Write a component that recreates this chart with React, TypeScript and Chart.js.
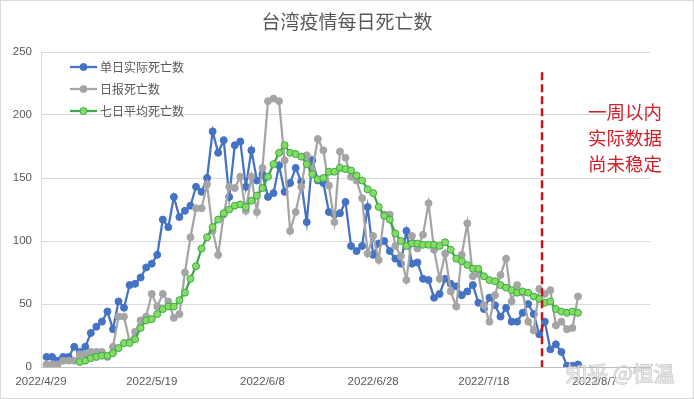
import React, { useEffect, useRef } from 'react';
import { Chart, registerables } from 'chart.js';

Chart.register(...registerables);

// Categories: daily dates from 2022/4/29 to 2022/8/17
const startDate = [2022, 4, 29];
const dayCount = 111;
const categories: string[] = [];
for (let i = 0; i < dayCount; i++) {
  const d = new Date(startDate[0], startDate[1] - 1, startDate[2] + i);
  categories.push(`${d.getFullYear()}/${d.getMonth() + 1}/${d.getDate()}`);
}

const tickLabels = ['2022/4/29', '2022/5/19', '2022/6/8', '2022/6/28', '2022/7/18', '2022/8/7'];
const yTicks = [0, 50, 100, 150, 200, 250];

// 单日实际死亡数, from 2022/4/30
const actualStart = '2022/4/30';
const actualDeaths = [
  8, 8, 5, 8, 8, 16, 12, 16, 27, 32,
  36, 44, 30, 52, 47, 65, 66, 71, 79, 82,
  89, 117, 111, 135, 119, 124, 128, 143, 139, 150,
  187, 170, 180, 135, 176, 179, 143, 172, 148, 153,
  135, 138, 160, 139, 146, 158, 147, 115, 164, 148,
  146, 123, 121, 122, 131, 96, 92, 96, 127, 89,
  98, 100, 92, 86, 82, 108, 82, 83, 70, 69,
  55, 58, 70, 66, 64, 57, 60, 65, 51, 46,
  55, 49, 40, 47, 36, 36, 43, 50, 42, 26,
  36, 14, 18, 12, 1, 1, 2,
];

// 日报死亡数, from 2022/4/30
const reportedStart = '2022/4/30';
const reportedDeaths = [
  2, 2, 2, 5, 5, 5, 10, 10, 12, 12,
  12, 8, 16, 40, 40, 20, 28, 37, 40, 58,
  48, 58, 52, 39, 42, 75, 103, 126, 126, 145,
  108, 89, 121, 143, 142, 151, 124, 151, 123, 158,
  211, 213, 211, 164, 108, 123, 143, 168, 156, 181,
  172, 144, 115, 171, 166, 151, 148, 134, 90, 104,
  85, 121, 121, 96, 88, 69, 104, 94, 105, 130,
  93, 70, 90, 60, 48, 89, 114, 72, 74, 49,
  36, 57, 73, 86, 52, 65, 59, 36, 29, 62,
  58, 61, 33, 36, 30, 31, 56,
];

// 七日平均死亡数, from 2022/5/6
const avgStart = '2022/5/6';
const avgDeaths = [
  4, 5, 7, 8,
  9, 9, 11, 15, 19, 19, 22, 31, 37, 38,
  42, 46, 48, 48, 53, 59, 70, 80, 94, 103,
  111, 117, 122, 125, 128, 129, 127, 132, 136, 142,
  151, 161, 170, 176, 170, 169, 167, 161, 153, 149,
  150, 155, 155, 158, 157, 156, 152, 148, 141, 138,
  127, 120, 117, 106, 100, 96, 98, 98, 97, 97,
  97, 96, 99, 93, 86, 84, 81, 78, 78, 72,
  69, 68, 65, 63, 61, 59, 60, 59, 56, 54,
  51, 52, 46, 44, 43, 44, 43,
];

const seriesNames = ['单日实际死亡数', '日报死亡数', '七日平均死亡数'];
const titleText = '台湾疫情每日死亡数';
const noteLines = ['一周以内', '实际数据', '尚未稳定'];
const cutoffBetween = ['2022/7/28', '2022/7/29'];
const cutoffTop = 234;
const watermark = '知乎 @恒温';

function align(values: number[], start: string): (number | null)[] {
  const out: (number | null)[] = new Array(categories.length).fill(null);
  const s = categories.indexOf(start);
  values.forEach((v, i) => {
    if (s + i < out.length) out[s + i] = v;
  });
  return out;
}

const CJK = '"Noto Sans CJK SC", "Noto Sans", sans-serif';
const TEXT = '#595959';

export default function App() {
  const ref = useRef<HTMLCanvasElement | null>(null);

  useEffect(() => {
    document.body.style.margin = '0';
    const canvas = ref.current;
    if (!canvas) return;

    const colors = [
      { line: '#4472C4', fill: '#4472C4' },
      { line: '#A5A5A5', fill: '#A5A5A5' },
      { line: '#3AAA48', fill: '#86DC62' },
    ];

    const overlay = {
      id: 'overlay',
      afterDatasetsDraw(chart: any) {
        const { ctx, scales } = chart;
        const x = scales.x;
        const y = scales.y;
        ctx.save();
        // red dashed cutoff line
        const i0 = categories.indexOf(cutoffBetween[0]);
        const i1 = categories.indexOf(cutoffBetween[1]);
        const px = (x.getPixelForValue(i0) + x.getPixelForValue(i1)) / 2;
        ctx.strokeStyle = '#C0141E';
        ctx.lineWidth = 2.5;
        ctx.setLineDash([8, 4]);
        ctx.beginPath();
        ctx.moveTo(px, y.getPixelForValue(cutoffTop));
        ctx.lineTo(px, y.getPixelForValue(0));
        ctx.stroke();
        ctx.setLineDash([]);
        ctx.restore();
      },
      afterDraw(chart: any) {
        const { ctx } = chart;
        ctx.save();
        // border
        ctx.strokeStyle = '#d9d9d9';
        ctx.lineWidth = 1;
        ctx.strokeRect(0.5, 0.5, chart.width - 1, chart.height - 1);
        // title
        ctx.fillStyle = TEXT;
        ctx.font = `19px ${CJK}`;
        ctx.textAlign = 'center';
        ctx.textBaseline = 'middle';
        ctx.fillText(titleText, 347, 22);
        // legend
        chart.data.datasets.forEach((ds: any, i: number) => {
          const ry = 67 + i * 22;
          ctx.strokeStyle = ds.borderColor;
          ctx.lineWidth = 2.25;
          ctx.beginPath();
          ctx.moveTo(70, ry);
          ctx.lineTo(97, ry);
          ctx.stroke();
          ctx.beginPath();
          ctx.arc(83.5, ry, 3.5, 0, Math.PI * 2);
          ctx.fillStyle = ds.pointBackgroundColor;
          ctx.fill();
          ctx.lineWidth = 1;
          ctx.strokeStyle = ds.pointBorderColor;
          ctx.stroke();
          ctx.fillStyle = TEXT;
          ctx.font = `12px ${CJK}`;
          ctx.textAlign = 'left';
          ctx.textBaseline = 'middle';
          ctx.fillText(ds.label, 100, ry);
        });
        // note
        ctx.fillStyle = '#D0202A';
        ctx.font = `18.5px ${CJK}`;
        ctx.textAlign = 'center';
        ctx.textBaseline = 'middle';
        noteLines.forEach((t, i) => ctx.fillText(t, 625, 112 + i * 26));
        // watermark
        ctx.font = `21px ${CJK}`;
        ctx.textAlign = 'left';
        ctx.fillStyle = 'rgba(235,235,235,0.75)';
        ctx.strokeStyle = 'rgba(140,140,140,0.55)';
        ctx.lineWidth = 1;
        ctx.strokeText(watermark, 566, 373);
        ctx.fillText(watermark, 566, 373);
        ctx.restore();
      },
    };

    const data = [align(actualDeaths, actualStart), align(reportedDeaths, reportedStart), align(avgDeaths, avgStart)];

    const chart = new Chart(canvas, {
      type: 'line',
      data: {
        labels: categories,
        datasets: seriesNames.map((name, i) => ({
          label: name,
          data: data[i],
          borderColor: colors[i].line,
          backgroundColor: colors[i].fill,
          pointBackgroundColor: colors[i].fill,
          pointBorderColor: colors[i].line,
          pointBorderWidth: 1,
          pointRadius: 3.5,
          borderWidth: 2.25,
          tension: 0,
          spanGaps: false,
          order: 3 - i,
        })),
      },
      options: {
        animation: false,
        responsive: false,
        devicePixelRatio: 1,
        layout: { padding: { top: 52, right: 44, left: 0, bottom: 0 } },
        plugins: {
          legend: { display: false },
          title: { display: false },
          tooltip: { enabled: false },
        },
        scales: {
          x: {
            type: 'category',
            offset: false,
            grid: { display: false, drawTicks: false },
            border: { display: true, color: '#bfbfbf', width: 1 },
            ticks: {
              autoSkip: false,
              maxRotation: 0,
              minRotation: 0,
              padding: 8,
              color: TEXT,
              font: { size: 11.5, family: '"Liberation Sans", Arial, sans-serif' },
              callback: (_v: any, idx: number) => (tickLabels.includes(categories[idx]) ? categories[idx] : ''),
            },
            afterFit: (s: any) => {
              s.height = 32;
            },
          },
          y: {
            min: yTicks[0],
            max: yTicks[yTicks.length - 1],
            afterBuildTicks: (s: any) => {
              s.ticks = yTicks.map((v) => ({ value: v }));
            },
            grid: { color: '#d9d9d9', drawTicks: false },
            border: { display: true, color: '#d9d9d9' },
            ticks: {
              padding: 9,
              color: TEXT,
              font: { size: 11.5, family: '"Liberation Sans", Arial, sans-serif' },
            },
            afterFit: (s: any) => {
              s.width = 41;
            },
          },
        },
      },
      plugins: [overlay],
    });

    return () => chart.destroy();
  }, []);

  return (
    <div style={{ position: 'fixed', left: 0, top: 0, width: 694, height: 399, background: '#fff' }}>
      <canvas ref={ref} width={694} height={399} style={{ width: 694, height: 399, display: 'block' }} />
    </div>
  );
}
